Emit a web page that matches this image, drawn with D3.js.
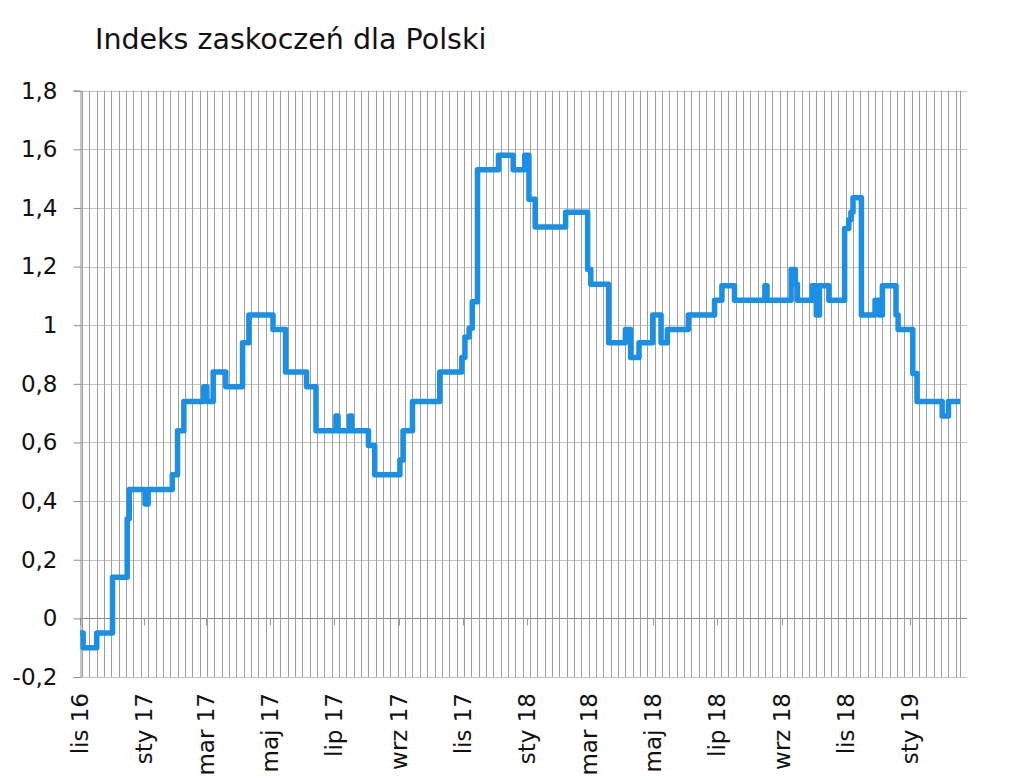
<!DOCTYPE html>
<html>
<head>
<meta charset="utf-8">
<script src="https://cdn.jsdelivr.net/npm/d3@7"></script>
<style>
  body { margin: 0; background: #fff; }
  svg { display: block; font-family: "DejaVu Sans", Verdana, sans-serif; }
</style>
</head>
<body>
<svg id="chart" width="1023" height="780"></svg>
<script>
// --- Data ---
const title = "Indeks zaskoczeń dla Polski";

const dates = [
  "2016-11-01", "2016-11-04", "2016-11-17", "2016-12-02", "2016-12-16", "2016-12-18",
  "2017-01-02", "2017-01-05", "2017-01-28", "2017-02-02", "2017-02-08", "2017-02-27",
  "2017-03-02", "2017-03-08", "2017-03-20", "2017-04-05", "2017-04-11", "2017-05-04",
  "2017-05-16", "2017-06-05", "2017-06-14", "2017-07-03", "2017-07-05", "2017-07-16",
  "2017-07-18", "2017-08-03", "2017-08-09", "2017-09-02", "2017-09-05", "2017-09-14",
  "2017-10-10", "2017-10-31", "2017-11-03", "2017-11-07", "2017-11-10", "2017-11-15",
  "2017-12-05", "2017-12-19", "2017-12-30", "2018-01-03", "2018-01-09", "2018-02-07",
  "2018-02-28", "2018-03-03", "2018-03-20", "2018-04-05", "2018-04-10", "2018-04-18",
  "2018-05-01", "2018-05-09", "2018-05-15", "2018-06-04", "2018-06-29", "2018-07-06",
  "2018-07-18", "2018-08-16", "2018-08-18", "2018-09-10", "2018-09-14", "2018-09-16",
  "2018-09-30", "2018-10-04", "2018-10-07", "2018-10-16", "2018-10-31", "2018-11-04",
  "2018-11-06", "2018-11-08", "2018-11-16", "2018-11-29", "2018-12-03", "2018-12-06",
  "2018-12-19", "2018-12-21", "2019-01-04", "2019-01-08", "2019-02-01", "2019-02-07",
  "2019-02-18"
];

const values = [
  -0.05, -0.10, -0.05, 0.14, 0.34, 0.44,
  0.39, 0.44, 0.49, 0.64, 0.74, 0.79,
  0.74, 0.84, 0.79, 0.94, 1.035, 0.985,
  0.84, 0.79, 0.64, 0.69, 0.64, 0.69,
  0.64, 0.59, 0.49, 0.54, 0.64, 0.74,
  0.84, 0.89, 0.96, 0.99, 1.08, 1.53,
  1.58, 1.53, 1.58, 1.43, 1.335, 1.385,
  1.19, 1.14, 0.94, 0.985, 0.89, 0.94,
  1.035, 0.94, 0.985, 1.035, 1.085, 1.135,
  1.085, 1.135, 1.085, 1.19, 1.14, 1.085,
  1.135, 1.035, 1.135, 1.085, 1.33, 1.36,
  1.385, 1.435, 1.035, 1.085, 1.035, 1.135,
  1.035, 0.985, 0.835, 0.74, 0.69, 0.74,
  0.74
];

const xDomain = ["2016-11-01", "2019-02-18"];
const yTicks = [-0.2, 0, 0.2, 0.4, 0.6, 0.8, 1, 1.2, 1.4, 1.6, 1.8];
const monthNames = ["sty", "lut", "mar", "kwi", "maj", "cze", "lip", "sie", "wrz", "paź", "lis", "gru"];

// --- Layout ---
const margin = { left: 80, right: 960, top: 90.7, bottom: 677 };
const parse = d3.timeParse("%Y-%m-%d");
const series = dates.map((d, i) => ({ date: parse(d), value: values[i] }));

const svg = d3.select("#chart");

const x = d3.scaleTime()
  .domain(xDomain.map(parse))
  .range([margin.left, margin.right]);

const y = d3.scaleLinear()
  .domain([-0.2, 1.8])
  .range([margin.bottom, margin.top]);

const plLocale = d3.formatLocale({ decimal: ",", thousands: " ", grouping: [3], currency: ["", " zł"], minus: "-" });
const fmtY = plLocale.format("~g");

// --- Title ---
svg.append("text")
  .attr("x", 95)
  .attr("y", 49)
  .attr("font-size", 28.5)
  .attr("fill", "#111")
  .text(title);

// --- Horizontal gridlines ---
svg.append("g")
  .selectAll("line")
  .data(yTicks)
  .join("line")
  .attr("x1", margin.left)
  .attr("x2", margin.right + 7)
  .attr("y1", d => Math.round(y(d)) + 0.5)
  .attr("y2", d => Math.round(y(d)) + 0.5)
  .attr("stroke", d => d === 0 ? "#8c8c8c" : "#c4c4c4")
  .attr("stroke-width", 1);

// --- Vertical weekly gridlines ---
const weeks = d3.timeThursday.range(x.domain()[0], x.domain()[1]);
svg.append("g")
  .selectAll("line")
  .data(weeks)
  .join("line")
  .attr("x1", d => Math.round(x(d)) + 0.5)
  .attr("x2", d => Math.round(x(d)) + 0.5)
  .attr("y1", margin.top)
  .attr("y2", margin.bottom)
  .attr("stroke", "#9e9e9e")
  .attr("stroke-width", 1);

// --- Right border ---
svg.append("line")
  .attr("x1", margin.right + 0.5).attr("x2", margin.right + 0.5)
  .attr("y1", margin.top).attr("y2", margin.bottom)
  .attr("stroke", "#9e9e9e");

// --- Small ticks on the zero line (every second month) ---
const monthTicks = d3.timeMonth.every(2).range(x.domain()[0], d3.timeDay.offset(x.domain()[1], 1));
svg.append("g")
  .selectAll("line")
  .data(monthTicks)
  .join("line")
  .attr("x1", d => Math.round(x(d)) + 0.5)
  .attr("x2", d => Math.round(x(d)) + 0.5)
  .attr("y1", y(0))
  .attr("y2", y(0) + 7)
  .attr("stroke", "#9a9a9a");

// --- Left axis ---
const yAxis = d3.axisLeft(y)
  .tickValues(yTicks)
  .tickSize(7)
  .tickPadding(16)
  .tickFormat(fmtY);

const gy = svg.append("g")
  .attr("transform", `translate(${margin.left + 0.5},0)`)
  .call(yAxis);
gy.select(".domain").attr("stroke", "#8c8c8c");
gy.selectAll(".tick line").attr("stroke", "#8c8c8c");
gy.selectAll(".tick text")
  .attr("font-size", 23)
  .attr("font-family", "DejaVu Sans, Verdana, sans-serif")
  .attr("fill", "#111");

// --- Month labels (rotated) ---
svg.append("g")
  .selectAll("text")
  .data(monthTicks)
  .join("text")
  .attr("transform", d => `translate(${x(d)},693) rotate(-90)`)
  .attr("text-anchor", "end")
  .attr("dy", "0.36em")
  .attr("font-size", 23)
  .attr("fill", "#111")
  .text(d => monthNames[d.getMonth()] + " " + d3.timeFormat("%y")(d));

// --- Index line ---
const line = d3.line()
  .x(d => x(d.date))
  .y(d => y(d.value))
  .curve(d3.curveStepAfter);

svg.append("path")
  .datum(series)
  .attr("fill", "none")
  .attr("stroke", "#1a8fe6")
  .attr("stroke-width", 5.5)
  .attr("stroke-linejoin", "round")
  .attr("stroke-linecap", "butt")
  .attr("d", line);
</script>
</body>
</html>
